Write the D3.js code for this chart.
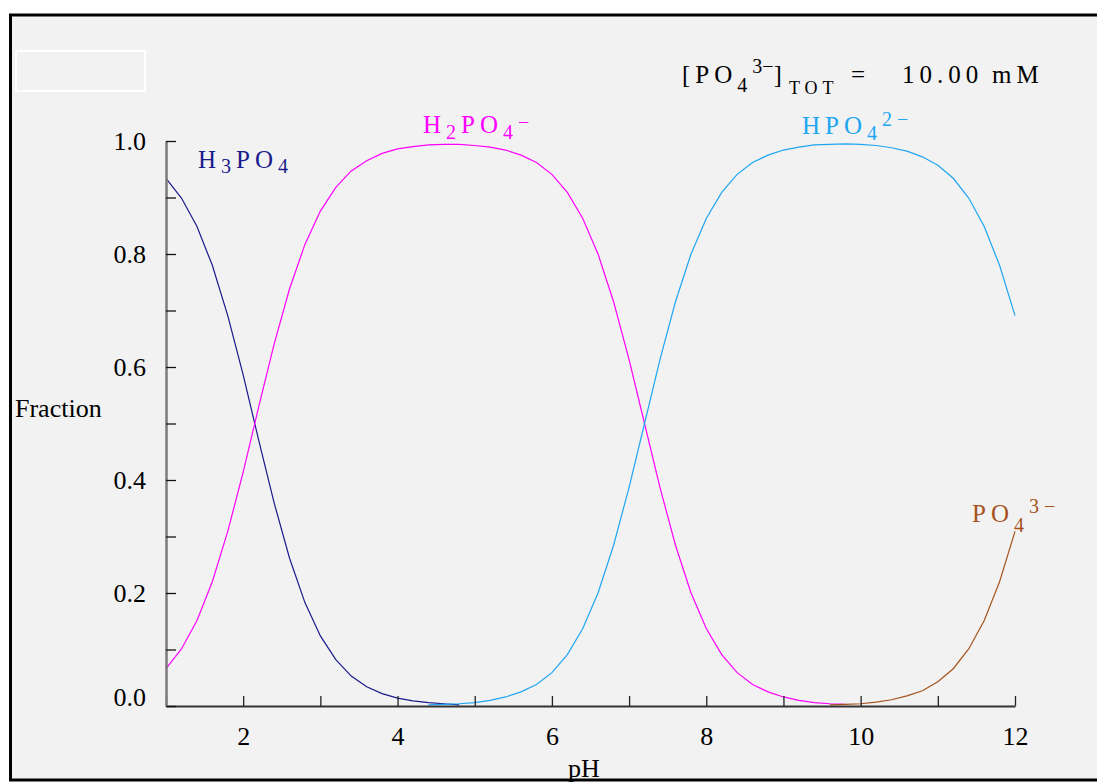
<!DOCTYPE html>
<html>
<head>
<meta charset="utf-8">
<script src="https://cdn.jsdelivr.net/npm/d3@7"></script>
<style>
  html, body { margin: 0; padding: 0; background: #ffffff; }
  svg { display: block; }
  text { font-family: "Liberation Serif", "Times New Roman", serif; }
</style>
</head>
<body>
<svg id="chart" width="1097" height="783"></svg>
<script>
// ---- data ----
const pH = [1.0,1.2,1.4,1.6,1.8,2.0,2.2,2.4,2.6,2.8,3.0,3.2,3.4,3.6,3.8,4.0,4.2,4.4,4.6,4.8,
            5.0,5.2,5.4,5.6,5.8,6.0,6.2,6.4,6.6,6.8,7.0,7.2,7.4,7.6,7.8,8.0,8.2,8.4,8.6,8.8,
            9.0,9.2,9.4,9.6,9.8,10.0,10.2,10.4,10.6,10.8,11.0,11.2,11.4,11.6,11.8,12.0];

const fracH3PO4 = [0.934,0.899,0.849,0.780,0.691,0.586,0.471,0.360,0.262,0.183,0.124,0.082,0.053,0.034,0.022,0.014,0.009,0.006,0.004,0.002,
                   null,null,null,null,null,null,null,null,null,null,null,null,null,null,null,null,null,null,null,null,
                   null,null,null,null,null,null,null,null,null,null,null,null,null,null,null,null];

const fracH2PO4 = [0.066,0.101,0.151,0.220,0.309,0.414,0.529,0.640,0.738,0.817,0.876,0.918,0.947,0.965,0.978,0.986,0.990,0.993,0.994,0.994,
                   0.992,0.989,0.984,0.975,0.962,0.941,0.909,0.863,0.799,0.715,0.613,0.500,0.387,0.285,0.201,0.137,0.091,0.059,0.038,0.025,
                   0.016,0.010,0.006,0.004,0.003,null,null,null,null,null,null,null,null,null,null,null];

const fracHPO4 = [null,null,null,null,null,null,null,null,null,null,null,null,null,null,null,null,null,0.002,0.003,0.004,
                  0.006,0.010,0.016,0.025,0.038,0.059,0.091,0.137,0.201,0.285,0.387,0.500,0.613,0.715,0.799,0.863,0.909,0.941,0.962,0.975,
                  0.984,0.989,0.993,0.994,0.995,0.994,0.992,0.988,0.982,0.972,0.957,0.934,0.899,0.849,0.780,0.691];

const fracPO4 = [null,null,null,null,null,null,null,null,null,null,null,null,null,null,null,null,null,null,null,null,
                 null,null,null,null,null,null,null,null,null,null,null,null,null,null,null,null,null,null,null,null,
                 null,null,null,0.002,0.003,0.004,0.007,0.011,0.018,0.027,0.043,0.066,0.101,0.151,0.220,0.309];

const xTicks = [1,2,3,4,5,6,7,8,9,10,11,12];
const xTickLabels = ["","2","","4","","6","","8","","10","","12"];
const yTicks = [0,0.1,0.2,0.3,0.4,0.5,0.6,0.7,0.8,0.9,1.0];
const yTickLabels = ["0.0","","0.2","","0.4","","0.6","","0.8","","1.0"];

const seriesColors = ["#1a1a8c", "#ff00ff", "#1ea6f2", "#a5521c"];
const totalConc = "10.00";
const concUnit = "mM";

// ---- drawing ----
const svg = d3.select("#chart");
const FONT = "'Liberation Serif', 'Times New Roman', serif";

// frame
svg.append("rect").attr("x", 10.5).attr("y", 15).attr("width", 1100).attr("height", 765)
  .attr("fill", "#f2f2f2").attr("stroke", "#000").attr("stroke-width", 3);

// empty white box
svg.append("rect").attr("x", 16).attr("y", 51).attr("width", 129).attr("height", 40)
  .attr("fill", "none").attr("stroke", "#ffffff").attr("stroke-width", 2);

const x = d3.scaleLinear().domain([1, 12]).range([166, 1015]);
const y = d3.scaleLinear().domain([0, 1]).range([706, 141]);

const series = [fracH3PO4, fracH2PO4, fracHPO4, fracPO4];
const line = d3.line()
  .defined(d => d[1] !== null)
  .x(d => x(d[0]))
  .y(d => y(d[1]));

series.forEach((s, k) => {
  svg.append("path")
    .datum(pH.map((p, i) => [p, s[i]]))
    .attr("fill", "none")
    .attr("stroke", seriesColors[k])
    .attr("stroke-width", 1.2)
    .attr("d", line);
});

// x axis
const xAxis = d3.axisBottom(x)
  .tickValues(xTicks)
  .tickFormat((d, i) => xTickLabels[i])
  .tickSizeInner(-10).tickSizeOuter(0).tickPadding(21);
const gx = svg.append("g").attr("transform", "translate(0,706)").call(xAxis);
gx.select(".domain").attr("stroke", "#333").attr("stroke-width", 2);
gx.selectAll(".tick line").attr("stroke", "#222").attr("stroke-width", 1.3);
gx.selectAll(".tick text").attr("font-size", 26).attr("fill", "#000").attr("font-family", FONT);

// y axis
const yAxis = d3.axisLeft(y)
  .tickValues(yTicks)
  .tickFormat((d, i) => yTickLabels[i])
  .tickSizeInner(-10).tickSizeOuter(0).tickPadding(20);
const gy = svg.append("g").attr("transform", "translate(166,0)").call(yAxis);
gy.select(".domain").attr("stroke", "#7a7a7a").attr("stroke-width", 2.5);
gy.selectAll(".tick line").attr("stroke", "#111").attr("stroke-width", 1.3);
gy.selectAll(".tick text").attr("font-size", 26).attr("fill", "#000").attr("font-family", FONT)
  .attr("dy", (d, i) => i === 0 ? "-0.02em" : "0.32em");

// axis titles
svg.append("text").attr("x", 15).attr("y", 417).attr("font-size", 26).text("Fraction");
svg.append("text").attr("x", 584).attr("y", 777).attr("font-size", 26)
  .attr("text-anchor", "middle").text("pH");

// helper for chemical labels
function chemLabel(xPos, yPos, color, parts) {
  const t = svg.append("text").attr("x", xPos).attr("y", yPos).attr("fill", color)
    .attr("font-size", 25).style("letter-spacing", "5px");
  parts.forEach(p => {
    const ts = t.append("tspan").text(p.t).attr("font-size", p.s || 25);
    if (p.dy) ts.attr("dy", p.dy);
    if (p.dx) ts.attr("dx", p.dx);
    if (p.x !== undefined) ts.attr("x", p.x);
    if (p.ls !== undefined) ts.style("letter-spacing", p.ls + "px");
  });
  return t;
}

chemLabel(198, 168, seriesColors[0], [
  {t: "H"}, {t: "3", s: 20, dy: 5}, {t: "PO", dy: -5}, {t: "4", s: 20, dy: 5}
]);
chemLabel(423, 133, seriesColors[1], [
  {t: "H"}, {t: "2", s: 20, dy: 6}, {t: "PO", dy: -6}, {t: "4", s: 20, dy: 6}, {t: "\u2212", s: 20, dy: -10}
]);
chemLabel(802, 134, seriesColors[2], [
  {t: "HPO"}, {t: "4", s: 20, dy: 6}, {t: "2\u2212", s: 20, dy: -14}
]);
chemLabel(972, 522, seriesColors[3], [
  {t: "PO"}, {t: "4", s: 20, dy: 10}, {t: "3\u2212", s: 20, dy: -19}
]);

// total concentration
chemLabel(682, 83, "#000", [
  {t: "[PO"}, {t: "4", s: 20, dy: 9}, {t: "3\u2212", s: 20, dy: -19, ls: 0}, {t: "]", dy: 10, ls: 0},
  {t: "TOT", s: 18, dy: 11, dx: 7}, {t: "=", dy: -11, x: 851},
  {t: totalConc, x: 902}, {t: concUnit, x: 992}
]);
</script>
</body>
</html>
